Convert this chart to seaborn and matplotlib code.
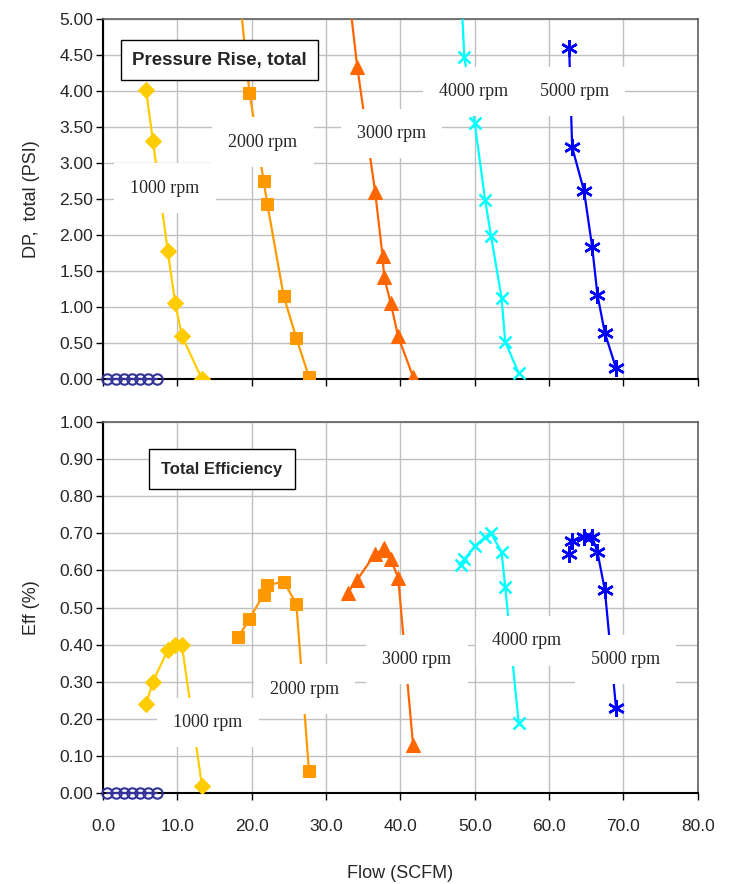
import matplotlib
matplotlib.use('Agg')
from matplotlib import pyplot as plt
import seaborn as sns
import pandas as pd

sns.set_style('whitegrid', {'grid.color': '#C0C0C0'})
plt.rcParams['font.family'] = ['Liberation Sans', 'DejaVu Sans']

# flow (SCFM), pressure rise (PSI), efficiency per speed
flow_0 = [0.6, 1.7, 2.8, 3.9, 5.0, 6.1, 7.2]
dp_0 = [0, 0, 0, 0, 0, 0, 0]
eff_0 = [0, 0, 0, 0, 0, 0, 0]

flow_1000 = [5.8, 6.7, 8.7, 9.7, 10.6, 13.3]
dp_1000 = [4.01, 3.31, 1.78, 1.06, 0.60, 0.00]
eff_1000 = [0.24, 0.30, 0.385, 0.40, 0.40, 0.02]

flow_2000 = [18.2, 19.7, 21.6, 22.1, 24.3, 26.0, 27.7]
dp_2000 = [5.5, 3.97, 2.75, 2.43, 1.15, 0.57, 0.03]
eff_2000 = [0.42, 0.47, 0.535, 0.56, 0.57, 0.51, 0.06]

flow_3000 = [32.9, 34.2, 36.6, 37.6, 37.8, 38.7, 39.7, 41.7]
dp_3000 = [5.5, 4.33, 2.60, 1.71, 1.42, 1.05, 0.59, 0.03]
eff_3000 = [0.54, 0.575, 0.645, 0.655, 0.66, 0.63, 0.58, 0.13]

flow_4000 = [48.1, 48.6, 50.0, 51.4, 52.2, 53.6, 54.1, 55.9]
dp_4000 = [5.5, 4.47, 3.55, 2.48, 1.98, 1.13, 0.52, 0.08]
eff_4000 = [0.615, 0.63, 0.665, 0.69, 0.70, 0.65, 0.555, 0.19]

flow_5000 = [62.7, 63.1, 64.7, 65.8, 66.5, 67.5, 69.0]
dp_5000 = [4.60, 3.22, 2.61, 1.83, 1.17, 0.64, 0.15]
eff_5000 = [0.645, 0.68, 0.69, 0.69, 0.65, 0.547, 0.23]

speeds = ['0 rpm', '1000 rpm', '2000 rpm', '3000 rpm', '4000 rpm', '5000 rpm']
x_ticks = [0, 10, 20, 30, 40, 50, 60, 70, 80]
dp_ticks = [i * 0.5 for i in range(11)]
eff_ticks = [i * 0.1 for i in range(11)]

# label anchor positions (flow, value)
dp_label_pos = {'1000 rpm': (8.3, 2.65), '2000 rpm': (21.5, 3.29), '3000 rpm': (38.8, 3.41),
                '4000 rpm': (49.9, 3.99), '5000 rpm': (63.4, 3.99)}
eff_label_pos = {'1000 rpm': (14.1, 0.19), '2000 rpm': (27.1, 0.28), '3000 rpm': (42.2, 0.36),
                 '4000 rpm': (57.0, 0.41), '5000 rpm': (70.3, 0.36)}

frames = []
for name, f, d, e in zip(speeds,
                         [flow_0, flow_1000, flow_2000, flow_3000, flow_4000, flow_5000],
                         [dp_0, dp_1000, dp_2000, dp_3000, dp_4000, dp_5000],
                         [eff_0, eff_1000, eff_2000, eff_3000, eff_4000, eff_5000]):
    frames.append(pd.DataFrame({'speed': name, 'flow': f, 'dp': d, 'eff': e}))
df = pd.concat(frames, ignore_index=True)

style = {
    '0 rpm': dict(color='#333399', marker='o', markersize=7.5, markerfacecolor='none',
                  markeredgecolor='#333399', markeredgewidth=1.5, clip_on=False),
    '1000 rpm': dict(color='#FFCC00', marker='D', markersize=8, markeredgecolor='#FFCC00'),
    '2000 rpm': dict(color='#FF9900', marker='s', markersize=9, markeredgecolor='#FF9900'),
    '3000 rpm': dict(color='#FF6600', marker='^', markersize=10, markeredgecolor='#FF6600'),
    '4000 rpm': dict(color='#00FFFF', marker='x', markersize=9, markeredgecolor='#00FFFF',
                     markeredgewidth=1.8),
    '5000 rpm': dict(color='#0000FF', marker=(6, 2, 0), markersize=12, markeredgecolor='#0000FF',
                     markeredgewidth=1.8),
}

fig = plt.figure(figsize=(7.37, 8.84), dpi=100)
ax1 = fig.add_axes([0.1398, 0.5713, 0.807, 0.4072])
ax2 = fig.add_axes([0.1398, 0.1029, 0.807, 0.4197])

for ax, col in [(ax1, 'dp'), (ax2, 'eff')]:
    for name in speeds:
        sub = df[df['speed'] == name]
        sns.lineplot(data=sub, x='flow', y=col, ax=ax, sort=False, estimator=None,
                     linewidth=1.6, zorder=3, **style[name])

for ax, ticks, lim in [(ax1, dp_ticks, 5.0), (ax2, eff_ticks, 1.0)]:
    ax.set_xlim(0, 80)
    ax.set_ylim(0, lim)
    ax.set_xticks(x_ticks)
    ax.set_yticks(ticks)
    ax.set_yticklabels(['%.2f' % t for t in ticks])
    ax.grid(True, color='#C0C0C0', linewidth=1)
    ax.tick_params(axis='both', direction='out', length=5, width=1, color='black',
                   labelsize=12.5, pad=2)
    ax.tick_params(axis='x', pad=14)
    ax.tick_params(axis='both', which='both', left=True, bottom=True)
    for s in ['left', 'bottom']:
        ax.spines[s].set_color('black')
        ax.spines[s].set_linewidth(1.5)
    for s in ['top', 'right']:
        ax.spines[s].set_color('#606060')
        ax.spines[s].set_linewidth(1.2)
    ax.set_facecolor('white')

ax1.set_xticklabels([])
ax2.set_xticklabels(['%.1f' % t for t in x_ticks])
ax1.set_xlabel(None)
ax2.set_xlabel('Flow (SCFM)', fontsize=13, labelpad=22)
ax1.set_ylabel('DP,  total (PSI)', fontsize=13, labelpad=14)
ax2.set_ylabel('Eff (%)', fontsize=13, labelpad=14)

for ax, pos in [(ax1, dp_label_pos), (ax2, eff_label_pos)]:
    for name, (lx, ly) in pos.items():
        ax.text(lx, ly, name, family='Liberation Serif', fontsize=13, ha='center', va='center',
                zorder=6, bbox=dict(boxstyle='square,pad=0.9', facecolor='white', edgecolor='none'))

ax1.text(15.7, 4.43, 'Pressure Rise, total', fontsize=13.5, fontweight='bold', ha='center',
         va='center', zorder=7,
         bbox=dict(boxstyle='square,pad=0.6', facecolor='white', edgecolor='black', linewidth=1))
ax2.text(16.0, 0.873, 'Total Efficiency', fontsize=12, fontweight='bold', ha='center',
         va='center', zorder=7,
         bbox=dict(boxstyle='square,pad=0.75', facecolor='white', edgecolor='black', linewidth=1))

plt.savefig('out.png', dpi=100)
